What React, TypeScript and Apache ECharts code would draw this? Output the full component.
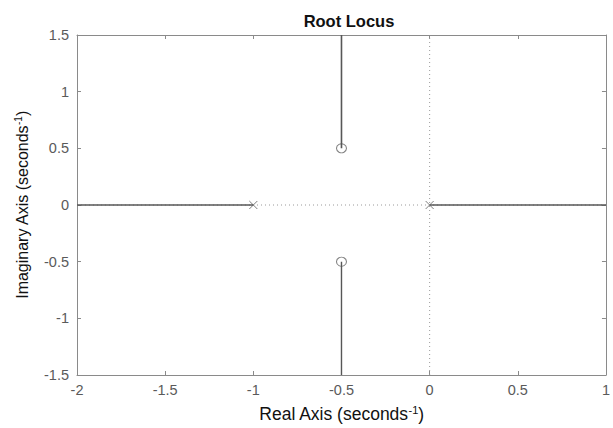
import React, { useEffect, useRef } from "react";
import * as echarts from "echarts";

const xTicks = [-2, -1.5, -1, -0.5, 0, 0.5, 1];
const yTicks = [-1.5, -1, -0.5, 0, 0.5, 1, 1.5];

// poles (x) and zeros (o)
const poles: [number, number][] = [[-1, 0], [0, 0]];
const zeros: [number, number][] = [[-0.5, 0.5], [-0.5, -0.5]];

// locus branches
const branchLeft: [number, number][] = [[-2, 0], [-1, 0]];
const branchRight: [number, number][] = [[0, 0], [1, 0]];
const branchUp: [number, number][] = [[-0.5, 0.5], [-0.5, 1.5]];
const branchDown: [number, number][] = [[-0.5, -0.5], [-0.5, -1.5]];

// dotted reference axes
const refHorizontal: [number, number][] = [[-2, 0], [1, 0]];
const refVertical: [number, number][] = [[0, -1.5], [0, 1.5]];

const FONT = "Liberation Sans, Arial, sans-serif";
const AXIS_COLOR = "#8a8a8a";
const LABEL_COLOR = "#5a5a5a";
const LOCUS_COLOR = "#575757";

export default function App() {
  const ref = useRef<HTMLDivElement>(null);
  useEffect(() => {
    const chart = echarts.init(ref.current!, null, { renderer: "svg" });
    const xMin = xTicks[0], xMax = xTicks[xTicks.length - 1];
    const yMin = yTicks[0], yMax = yTicks[yTicks.length - 1];
    const common = {
      type: "value" as const,
      interval: 0.5,
      splitLine: { show: false },
      axisLine: { show: true, onZero: false, lineStyle: { color: AXIS_COLOR, width: 1 } },
      axisTick: { show: true, inside: true, length: 4, lineStyle: { color: AXIS_COLOR } },
    };
    const lineSeries = (data: [number, number][], color: string, type: any, width: number) => ({
      type: "line",
      data,
      symbol: "none",
      silent: true,
      lineStyle: { color, type, width },
      xAxisIndex: 0,
      yAxisIndex: 0,
    });
    const richX = {
      sup: { fontFamily: FONT, fontSize: 11, color: "#111", verticalAlign: "top", padding: [0, 0, 9, 0] },
    };
    const richY = {
      sup: { fontFamily: FONT, fontSize: 10, color: "#111", verticalAlign: "top", padding: [0, 0, 8, 0] },
    };
    chart.setOption({
      animation: false,
      backgroundColor: "#ffffff",
      title: {
        text: "Root Locus",
        left: 344,
        textAlign: "center",
        top: 7,
        textStyle: { fontFamily: FONT, fontSize: 16.5, fontWeight: "bold", color: "#111" },
      },
      grid: { left: 77, right: 2, top: 35, bottom: 48 },
      xAxis: [
        {
          ...common,
          position: "bottom",
          min: xMin,
          max: xMax,
          axisLabel: { show: true, color: LABEL_COLOR, fontFamily: FONT, fontSize: 14.5, margin: 7 },
          name: "Real Axis (seconds{sup|-1})",
          nameLocation: "middle",
          nameGap: 29,
          nameTextStyle: { color: "#111", fontFamily: FONT, fontSize: 17.5, rich: richX },
        },
        {
          ...common,
          position: "top",
          min: xMin,
          max: xMax,
          axisLabel: { show: false },
        },
      ],
      yAxis: [
        {
          ...common,
          position: "left",
          min: yMin,
          max: yMax,
          axisLabel: { show: true, color: LABEL_COLOR, fontFamily: FONT, fontSize: 14.5, margin: 8 },
          name: "Imaginary Axis (seconds{sup|-1})",
          nameLocation: "middle",
          nameGap: 46,
          nameTextStyle: { color: "#111", fontFamily: FONT, fontSize: 16, rich: richY },
        },
        {
          ...common,
          position: "right",
          min: yMin,
          max: yMax,
          axisLabel: { show: false },
        },
      ],
      series: [
        lineSeries(refHorizontal, "#9a9a9a", [1, 3], 1),
        lineSeries(refVertical, "#9a9a9a", [1, 3], 1),
        lineSeries(branchLeft, LOCUS_COLOR, "solid", 1.4),
        lineSeries(branchRight, LOCUS_COLOR, "solid", 1.4),
        lineSeries(branchUp, LOCUS_COLOR, "solid", 1.6),
        lineSeries(branchDown, LOCUS_COLOR, "solid", 1.4),
        {
          type: "scatter",
          data: poles,
          symbol: "path://M0,0L10,10M10,0L0,10",
          symbolSize: 8,
          itemStyle: { color: "none", borderColor: "#606060", borderWidth: 1 },
          silent: true,
        },
        {
          type: "scatter",
          data: zeros,
          symbol: "circle",
          symbolSize: [10, 9],
          itemStyle: { color: "#ffffff", borderColor: "#606060", borderWidth: 1 },
          silent: true,
        },
      ],
    });
    return () => chart.dispose();
  }, []);
  return <div ref={ref} style={{ width: 613, height: 428, position: "fixed", left: 0, top: 0 }} />;
}
